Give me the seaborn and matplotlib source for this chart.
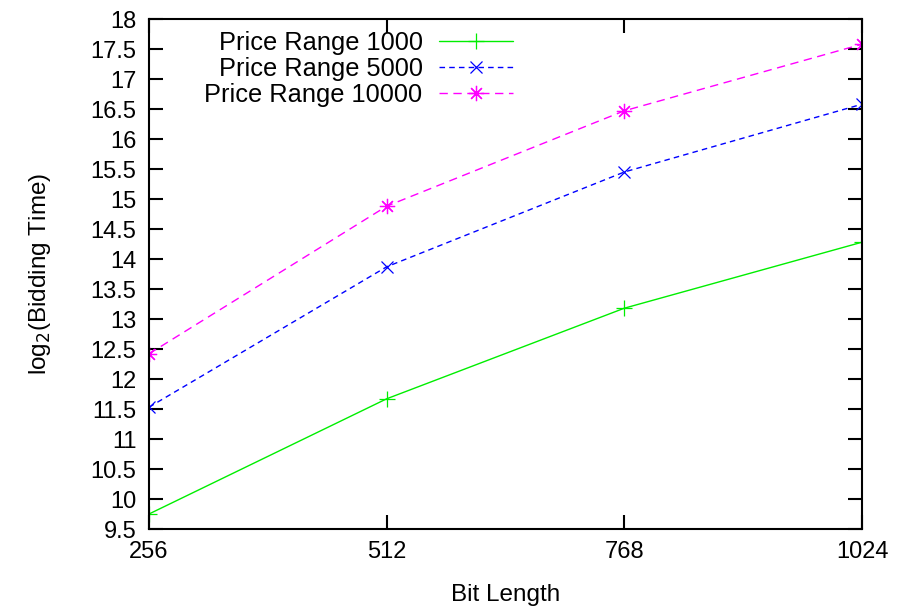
import matplotlib
matplotlib.use("Agg")
import matplotlib.pyplot as plt
import seaborn as sns
import pandas as pd

bit_lengths = [256, 512, 768, 1024]
range_1000 = [9.75, 11.67, 13.18, 14.28]
range_5000 = [11.53, 13.87, 15.45, 16.58]
range_10000 = [12.42, 14.88, 16.47, 17.58]
series_names = ["Price Range 1000", "Price Range 5000", "Price Range 10000"]
y_ticks = [9.5 + 0.5 * i for i in range(18)]
y_tick_labels = ["9.5", "10", "10.5", "11", "11.5", "12", "12.5", "13", "13.5",
                 "14", "14.5", "15", "15.5", "16", "16.5", "17", "17.5", "18"]

sns.set_theme(style="ticks")
plt.rcParams["font.family"] = ["Liberation Sans", "DejaVu Sans"]
plt.rcParams["text.color"] = "black"
plt.rcParams["axes.labelcolor"] = "black"

rows = []
for name, vals in zip(series_names, [range_1000, range_5000, range_10000]):
    for b, v in zip(bit_lengths, vals):
        rows.append({"Bit Length": b, "value": v, "series": name})
df = pd.DataFrame(rows)

fig = plt.figure(figsize=(8.98, 6.10), dpi=100)
ax = fig.add_axes([149/898, 1-529/610, (862-149)/898, (529-19)/610])

styles = {
    "Price Range 1000": dict(color="#00ee00", marker="+", linestyle="-", ms=11),
    "Price Range 5000": dict(color="#0000ff", marker="x", linestyle=(0, (4, 3)), ms=9),
    "Price Range 10000": dict(color="#ff00ff", marker=(8, 2, 0), linestyle=(0, (6, 4)), ms=11),
}
for name in series_names:
    sub = df[df["series"] == name]
    st = styles[name]
    sns.lineplot(data=sub, x="Bit Length", y="value", ax=ax, label=name,
                 color=st["color"], marker=st["marker"], linestyle=st["linestyle"],
                 linewidth=1.0, markersize=st["ms"], markeredgewidth=0.9,
                 markeredgecolor=st["color"], estimator=None, sort=False)

ax.set_xlim(256, 1024)
ax.set_ylim(9.5, 18)
ax.set_xticks(bit_lengths)
ax.set_xticklabels([str(b) for b in bit_lengths])
ax.set_yticks(y_ticks)
ax.set_yticklabels(y_tick_labels)
ax.tick_params(axis="both", direction="in", length=10, width=1.5, labelsize=17,
               top=True, right=True, pad=9, colors="black", labelcolor="black")
for s in ax.spines.values():
    s.set_linewidth(1.5)
    s.set_color("black")
    s.set_visible(True)
ax.set_xlabel("Bit Length", fontsize=17.5, labelpad=15)
ax.set_ylabel("log$_2$(Bidding Time)", fontsize=17.5, labelpad=27)

leg = ax.legend(loc="upper left", bbox_to_anchor=(0.085, 1.012), frameon=False,
                markerfirst=False, fontsize=18.3, handlelength=2.9,
                labelspacing=0.08, borderaxespad=0.3, handletextpad=0.65)
for t in leg.get_texts():
    t.set_ha("right")
leg._legend_box.align = "right"

fig.canvas.draw()
bb = leg.get_window_extent()
# shift so that the legend's right edge sits where the reference has it
target_right = 523
dx = (target_right - bb.x1) / ax.get_window_extent().width
leg.set_bbox_to_anchor((0.085 + dx, 1.012), transform=ax.transAxes)

fig.savefig("out.png", dpi=100)
